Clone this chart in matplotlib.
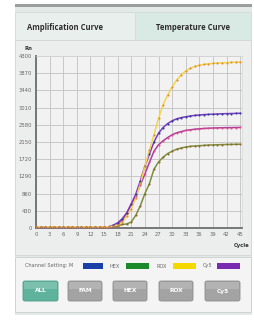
import matplotlib
matplotlib.use("Agg")
from matplotlib import pyplot as plt
from matplotlib.patches import Rectangle, FancyBboxPatch

# one value per cycle (0..45)
cycles = list(range(46))
rox = [30] * 17 + [50, 75, 150, 290, 480, 750, 1100, 1550, 1950, 2330, 2740, 3080, 3320, 3530,
                   3700, 3830, 3930, 3990, 4040, 4070, 4090, 4105, 4115, 4125, 4130, 4135, 4140, 4145, 4150]
cy5 = [30] * 17 + [70, 130, 230, 380, 600, 850, 1180, 1550, 1850, 2150, 2370, 2510, 2610, 2680,
                   2730, 2760, 2780, 2800, 2815, 2825, 2835, 2840, 2845, 2850, 2855, 2860, 2862, 2865, 2868]
fam = [30] * 17 + [55, 100, 190, 370, 600, 800, 1080, 1350, 1640, 1920, 2080, 2180, 2260, 2330,
                   2380, 2410, 2440, 2455, 2470, 2480, 2488, 2495, 2500, 2503, 2506, 2508, 2510, 2512, 2514]
hex_ = [25] * 17 + [35, 50, 90, 100, 150, 320, 560, 860, 1110, 1470, 1650, 1770, 1860, 1920,
                    1970, 2000, 2025, 2040, 2050, 2058, 2065, 2072, 2078, 2082, 2085, 2088, 2090, 2092, 2094]

y_ticks = [0, 430, 860, 1290, 1720, 2150, 2580, 3010, 3440, 3870, 4300]
x_ticks = list(range(0, 46, 3))

tabs = ["Amplification Curve", "Temperature Curve"]
channels = ["HEX", "ROX", "Cy5"]
channel_colors = ["#1a8a2a", "#f5d800", "#7a2ab0"]
buttons = ["ALL", "FAM", "HEX", "ROX", "Cy5"]

W, H = 255, 323
fig = plt.figure(figsize=(W / 100, H / 100), dpi=100)
fig.patch.set_facecolor("white")

# background layer in pixel units
bg = fig.add_axes([0, 0, 1, 1])
bg.set_xlim(0, W)
bg.set_ylim(H, 0)
bg.axis("off")

bg.add_patch(Rectangle((15, 4), 237, 3, color="#9a9e9c", lw=0))
bg.add_patch(Rectangle((15, 7), 237, 308, color="#e2e9e6", lw=0))
bg.add_patch(Rectangle((15, 12), 120, 28, facecolor="#e9efec", edgecolor="#d2dbd7", lw=0.6))
bg.add_patch(Rectangle((135, 12), 116, 28, facecolor="#d9e9e3", edgecolor="#d2dbd7", lw=0.6))
bg.text(65, 27, tabs[0], ha="center", va="center", fontsize=5.5, fontweight="bold",
        color="#2e2e2e", family="Open Sans")
bg.text(193, 27, tabs[1], ha="center", va="center", fontsize=5.5, fontweight="bold",
        color="#2e2e2e", family="Open Sans")

# chart panel
bg.add_patch(Rectangle((15, 40), 236, 215, facecolor="#eceeed", edgecolor="#d0d6d3", lw=0.6))
# bottom panel
bg.add_patch(Rectangle((15, 257), 236, 55, facecolor="#f3f4f3", edgecolor="#c9cfcc", lw=0.6))

bg.text(25, 266, "Channel Setting: M", ha="left", va="center", fontsize=3.6, color="#666666")
bg.add_patch(Rectangle((83, 263), 20, 6, color="#1a3fa8", lw=0))
sw_x = [(110, 126), (157, 173), (203, 217)]
for name, col, (tx, sx) in zip(channels, channel_colors, sw_x):
    bg.text(tx, 266, name, ha="left", va="center", fontsize=3.6, color="#666666")
    bg.add_patch(Rectangle((sx, 263), 23, 6, color=col, lw=0))

btn_x = [(23, 58), (68, 102), (113, 147), (159, 193), (205, 240)]
for label, (x0, x1) in zip(buttons, btn_x):
    face = "#5fb39c" if label == "ALL" else "#a3a3a3"
    edge = "#4a9c86" if label == "ALL" else "#8c8c8c"
    bg.add_patch(FancyBboxPatch((x0, 281), x1 - x0, 20, boxstyle="round,pad=0,rounding_size=2",
                                facecolor=face, edgecolor=edge, lw=0.6))
    bg.add_patch(Rectangle((x0 + 1, 282), x1 - x0 - 2, 7, color="white", alpha=0.18, lw=0))
    bg.text((x0 + x1) / 2, 291, label, ha="center", va="center", fontsize=4.2,
            fontweight="bold", color="white")

# amplification plot
ax = fig.add_axes([36 / W, 1 - 228 / H, 206 / W, 172 / H])
ax.set_facecolor("#f2f2f2")
ax.set_xlim(0, 45.4)
ax.set_ylim(0, 4300)
ax.set_xticks(x_ticks)
ax.set_yticks(y_ticks)
ax.set_xticklabels([str(v) for v in x_ticks])
ax.set_yticklabels([str(v) for v in y_ticks])
ax.tick_params(length=0, labelsize=3.8, labelcolor="#666666", pad=3)
ax.grid(True, color="#c2c2c2", lw=0.6)
ax.set_axisbelow(True)
for side in ["top", "right"]:
    ax.spines[side].set_color("#d8d8d8")
    ax.spines[side].set_linewidth(0.5)
for side in ["left", "bottom"]:
    ax.spines[side].set_color("#6e6e6e")
    ax.spines[side].set_linewidth(1.3)

series = [
    (hex_, "#7f8f3c", "#8a6a30"),
    (fam, "#b03c9a", "#e0508a"),
    (cy5, "#7a3cc0", "#2f3a9a"),
    (rox, "#f2d54a", "#e08a3a"),
]
for vals, line_col, dot_col in series:
    ax.plot(cycles, vals, color=line_col, lw=1.1, zorder=3)
    ax.plot(cycles, vals, ls="none", marker="o", ms=1.5, mfc=dot_col, mec="none", zorder=4)

ax.text(-0.02, 1.03, "Rn", transform=ax.transAxes, ha="right", va="bottom",
        fontsize=3.8, fontweight="bold", color="#333333")
ax.text(1.0, -0.09, "Cycle", transform=ax.transAxes, ha="center", va="top",
        fontsize=3.8, fontweight="bold", color="#333333")

fig.savefig("out.png", dpi=100)
